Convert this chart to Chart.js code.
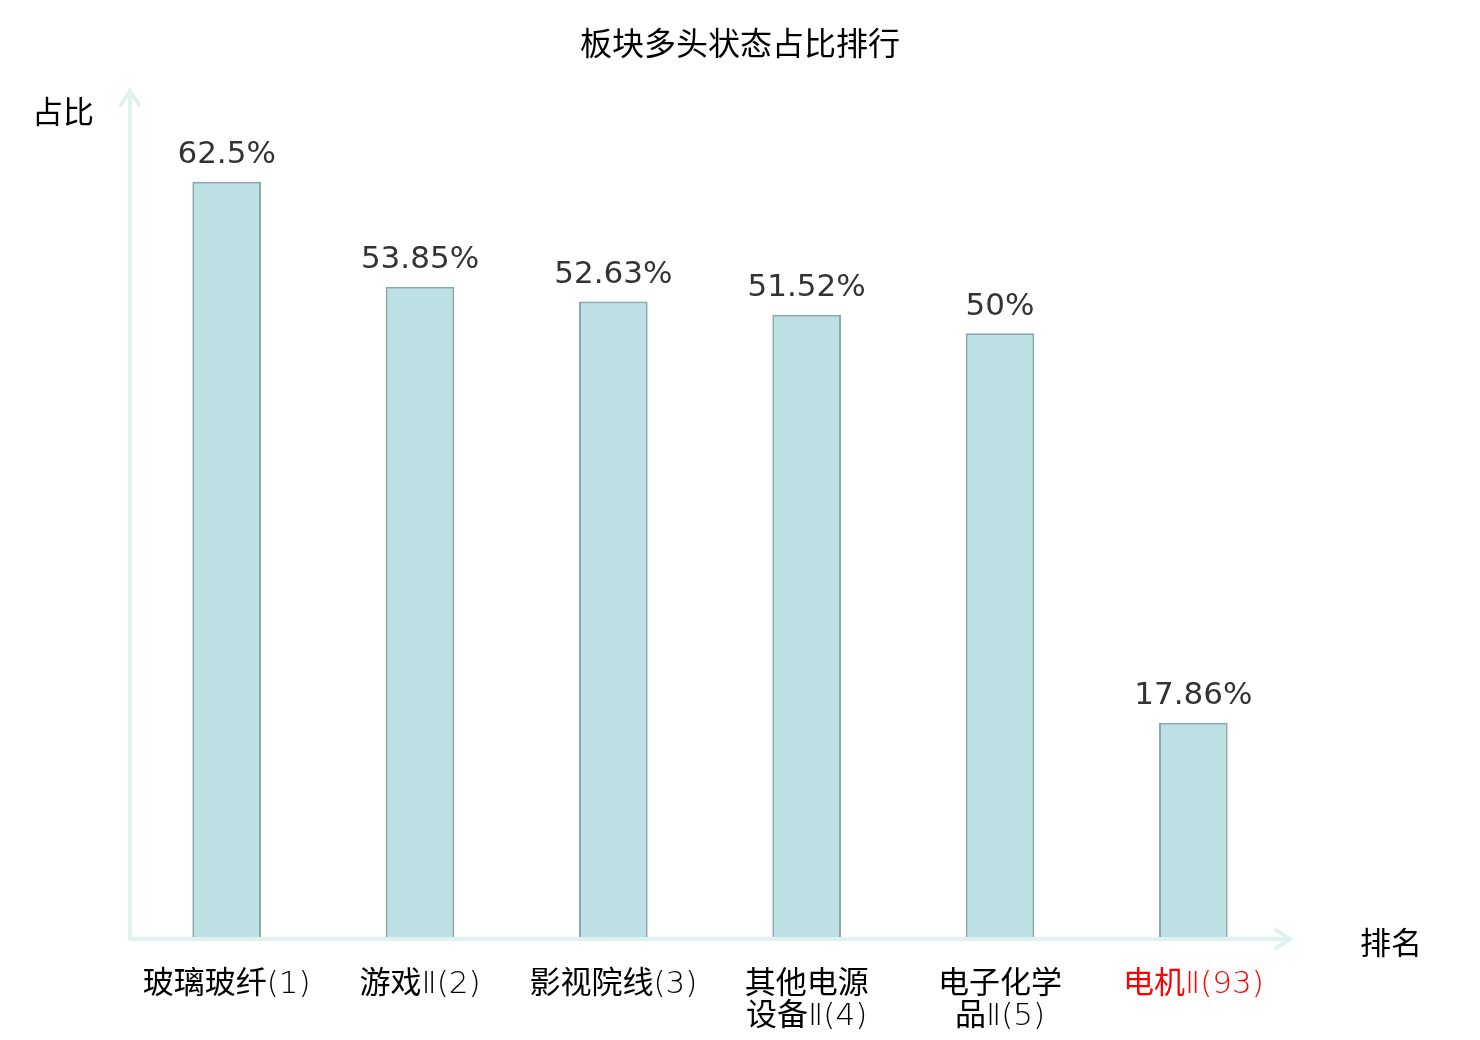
<!DOCTYPE html>
<html>
<head>
<meta charset="utf-8">
<script src="https://cdn.jsdelivr.net/npm/chart.js@4.4.1/dist/chart.umd.min.js"></script>
<style>
  html, body { margin: 0; padding: 0; background: #fff; }
  #wrap { width: 1480px; height: 1040px; }
</style>
</head>
<body>
<div id="wrap"><canvas id="chart" width="1480" height="1040"></canvas></div>
<script>
const categories = [
  ['玻璃玻纤(1)'],
  ['游戏Ⅱ(2)'],
  ['影视院线(3)'],
  ['其他电源', '设备Ⅱ(4)'],
  ['电子化学', '品Ⅱ(5)'],
  ['电机Ⅱ(93)'],
];
const ratios = [62.5, 53.85, 52.63, 51.52, 50, 17.86];
const valueLabels = ['62.5%', '53.85%', '52.63%', '51.52%', '50%', '17.86%'];
const highlightIndex = 5;

const FONT = '"DejaVu Sans", "Noto Sans CJK SC", sans-serif';
const TICK_FONT = '"DejaVu Sans Light", "DejaVu Sans", "Noto Sans CJK SC", sans-serif';
const CJK_FONT = '"Noto Sans CJK SC", "DejaVu Sans", sans-serif';
const AXIS_COLOR = '#dff2ef';

const decorPlugin = {
  id: 'decor',
  afterDatasetsDraw(chart) {
    const ctx = chart.ctx;
    const area = chart.chartArea;
    ctx.save();

    // axes with arrows
    ctx.strokeStyle = AXIS_COLOR;
    ctx.lineWidth = 4;
    ctx.lineCap = 'round';
    ctx.beginPath();
    ctx.moveTo(area.left, area.bottom);
    ctx.lineTo(area.left, area.top);
    ctx.moveTo(area.left - 9, area.top + 14);
    ctx.lineTo(area.left, area.top);
    ctx.lineTo(area.left + 9, area.top + 14);
    ctx.moveTo(area.left, area.bottom);
    ctx.lineTo(area.right, area.bottom);
    ctx.moveTo(area.right - 14, area.bottom - 9);
    ctx.lineTo(area.right, area.bottom);
    ctx.lineTo(area.right - 14, area.bottom + 9);
    ctx.stroke();

    // value labels
    const meta = chart.getDatasetMeta(0);
    ctx.fillStyle = '#333333';
    ctx.font = '31px ' + FONT;
    ctx.textAlign = 'center';
    ctx.textBaseline = 'bottom';
    meta.data.forEach((bar, i) => {
      ctx.fillText(valueLabels[i], bar.x, bar.y - 11);
    });

    // title and axis names
    ctx.fillStyle = '#000000';
    ctx.textBaseline = 'middle';
    ctx.font = '32px ' + CJK_FONT;
    ctx.fillText('板块多头状态占比排行', 740, 43);
    ctx.font = '31px ' + CJK_FONT;
    ctx.fillText('占比', 63, 111);
    ctx.fillText('排名', 1391, 942);
    ctx.restore();
  }
};

new Chart(document.getElementById('chart').getContext('2d'), {
  type: 'bar',
  data: {
    labels: categories,
    datasets: [{
      data: ratios,
      backgroundColor: '#bce0e3',
      borderColor: '#8aa8a8',
      borderWidth: 2,
      borderSkipped: false,
      barPercentage: 0.355,
      categoryPercentage: 1.0,
    }]
  },
  options: {
    responsive: false,
    animation: false,
    layout: { padding: { left: 130, right: 190, top: 91, bottom: 0 } },
    plugins: {
      legend: { display: false },
      title: { display: false },
      tooltip: { enabled: false },
    },
    scales: {
      x: {
        grid: { display: false, drawTicks: false },
        border: { display: false },
        afterFit(scale) { scale.height = 101; },
        ticks: {
          padding: 30,
          maxRotation: 0,
          autoSkip: false,
          font: { family: TICK_FONT, size: 31, lineHeight: 1.03 },
          color: (c) => (c.index === highlightIndex ? '#ff0000' : '#000000'),
        }
      },
      y: {
        display: false,
        min: 0,
        max: 70,
      }
    }
  },
  plugins: [decorPlugin]
});
</script>
</body>
</html>
